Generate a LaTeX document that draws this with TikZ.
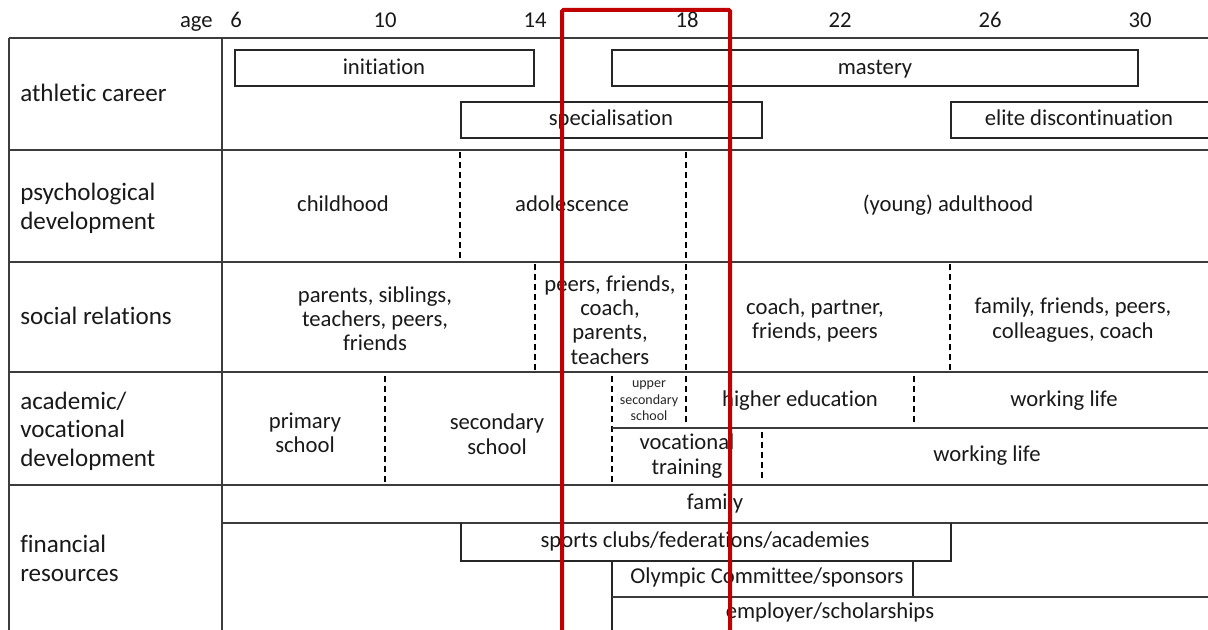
\documentclass[tikz,border=0pt]{standalone}
\usepackage{fontspec}
\setmainfont[Ligatures={NoCommon}]{Carlito}
\definecolor{redframe}{RGB}{192,0,0}
\definecolor{linegray}{RGB}{60,60,60}
\begin{document}
\begin{tikzpicture}[x=0.75pt,y=-0.75pt,
  tline/.style={draw=linegray,line width=1.1pt},
  bline/.style={draw=black!85,line width=0.8pt},
  dline/.style={draw=black,line width=1.1pt,dash pattern=on 4.5pt off 3pt},
  txt/.style={font=\fontsize{17}{18}\selectfont,align=center,inner sep=0pt,text=black!90},
  btxt/.style={txt,anchor=base},
  ltxt/.style={txt,align=left,anchor=west,font=\fontsize{18.8}{21.5}\selectfont},
  stxt/.style={font=\fontsize{10.5}{12.4}\selectfont,align=center,inner sep=0pt,text=black!85},
  redbox/.style={draw=redframe,line width=3pt,rounded corners=1pt}]
\useasboundingbox (0,0) rectangle (1208,630);
% axis
\node[btxt,anchor=base east] (age) at (213,28) {age};
\node[btxt] (a6) at (236,28) {6};
\node[btxt] (a10) at (385,28) {10};
\node[btxt] (a14) at (535,28) {14};
\node[btxt] (a18) at (687,28) {18};
\node[btxt] (a22) at (840,28) {22};
\node[btxt] (a26) at (990,28) {26};
\node[btxt] (a30) at (1140,28) {30};
% table frame
\draw[tline] (9,38) -- (1210,38);
\foreach \yy in {150,262,372,485} \draw[tline] (9,\yy) -- (1210,\yy);
\draw[tline] (9,38) -- (9,632);
\draw[tline] (222,38) -- (222,632);
% row labels
\node[ltxt,anchor=base west] (l1) at (20,102) {athletic career};
\node[ltxt] (l2) at (20,208.5) {psychological\\development};
\node[ltxt,anchor=base west] (l3) at (20,325) {social relations};
\node[ltxt] (l4) at (20,431) {academic/\\vocational\\development};
\node[ltxt] (l5) at (20,558.5) {financial\\resources};
% athletic career
\draw[bline] (235,50) rectangle (534,86);
\node[btxt] (init) at (384,75) {initiation};
\draw[bline] (612,50) rectangle (1138,86);
\node[btxt] (mast) at (875,75) {mastery};
\draw[bline] (461,102) rectangle (762,138);
\node[btxt] (spec) at (611,126) {specialisation};
\draw[bline] (1210,102) -- (951,102) -- (951,138) -- (1210,138);
\node[btxt] (elite) at (1079,126) {elite discontinuation};
% psychological
\draw[dline] (460,152) -- (460,259);
\draw[dline] (686,152) -- (686,259);
\node[btxt] (child) at (343,212) {childhood};
\node[btxt] (adol) at (572,212) {adolescence};
\node[btxt] (adult) at (948,212) {(young) adulthood};
% social
\draw[dline] (535,264) -- (535,370);
\draw[dline] (686,264) -- (686,370);
\draw[dline] (950,264) -- (950,370);
\node[txt,font=\fontsize{17}{18}\selectfont] (s1) at (375,319) {parents, siblings,\\teachers, peers,\\friends};
\node[txt,font=\fontsize{17}{18.2}\selectfont] (s2) at (610,320) {peers, friends,\\coach,\\parents,\\teachers};
\node[txt,font=\fontsize{17}{18}\selectfont] (s3) at (815,320) {coach, partner,\\friends, peers};
\node[txt,font=\fontsize{17}{18.5}\selectfont] (s4) at (1073,320) {family, friends, peers,\\colleagues, coach};
% academic
\draw[dline] (385,376) -- (385,482);
\draw[dline] (612,376) -- (612,482);
\draw[tline] (612,428) -- (1210,428);
\draw[dline] (686,376) -- (686,425);
\draw[dline] (914,376) -- (914,425);
\draw[dline] (762,432) -- (762,482);
\node[txt,font=\fontsize{17}{18}\selectfont] (prim) at (305,433) {primary\\school};
\node[txt,font=\fontsize{17}{18.75}\selectfont] (sec) at (497,434) {secondary\\school};
\node[stxt] (usec) at (649,401) {upper\\secondary\\school};
\node[btxt] (high) at (800,407) {higher education};
\node[btxt] (work1) at (1064,407) {working life};
\node[txt,font=\fontsize{17}{18.75}\selectfont] (voc) at (687,456) {vocational\\training};
\node[btxt] (work2) at (987,462) {working life};
% financial
\draw[tline] (222,523) -- (1210,523);
\node[btxt] (fam) at (715,510) {family};
\draw[bline] (461,523) -- (461,561) -- (951,561) -- (951,523);
\node[btxt] (clubs) at (705,548) {sports clubs/federations/academies};
\draw[bline] (612,561) -- (612,632);
\draw[bline] (913,561) -- (913,597);
\draw[tline] (612,597) -- (1210,597);
\node[btxt] (olym) at (767,584) {Olympic Committee/sponsors};
\node[btxt] (empl) at (830,619) {employer/scholarships};
% red highlight
\draw[redbox] (562,640) -- (562,10) -- (730,10) -- (730,640);
\end{tikzpicture}
\end{document}
